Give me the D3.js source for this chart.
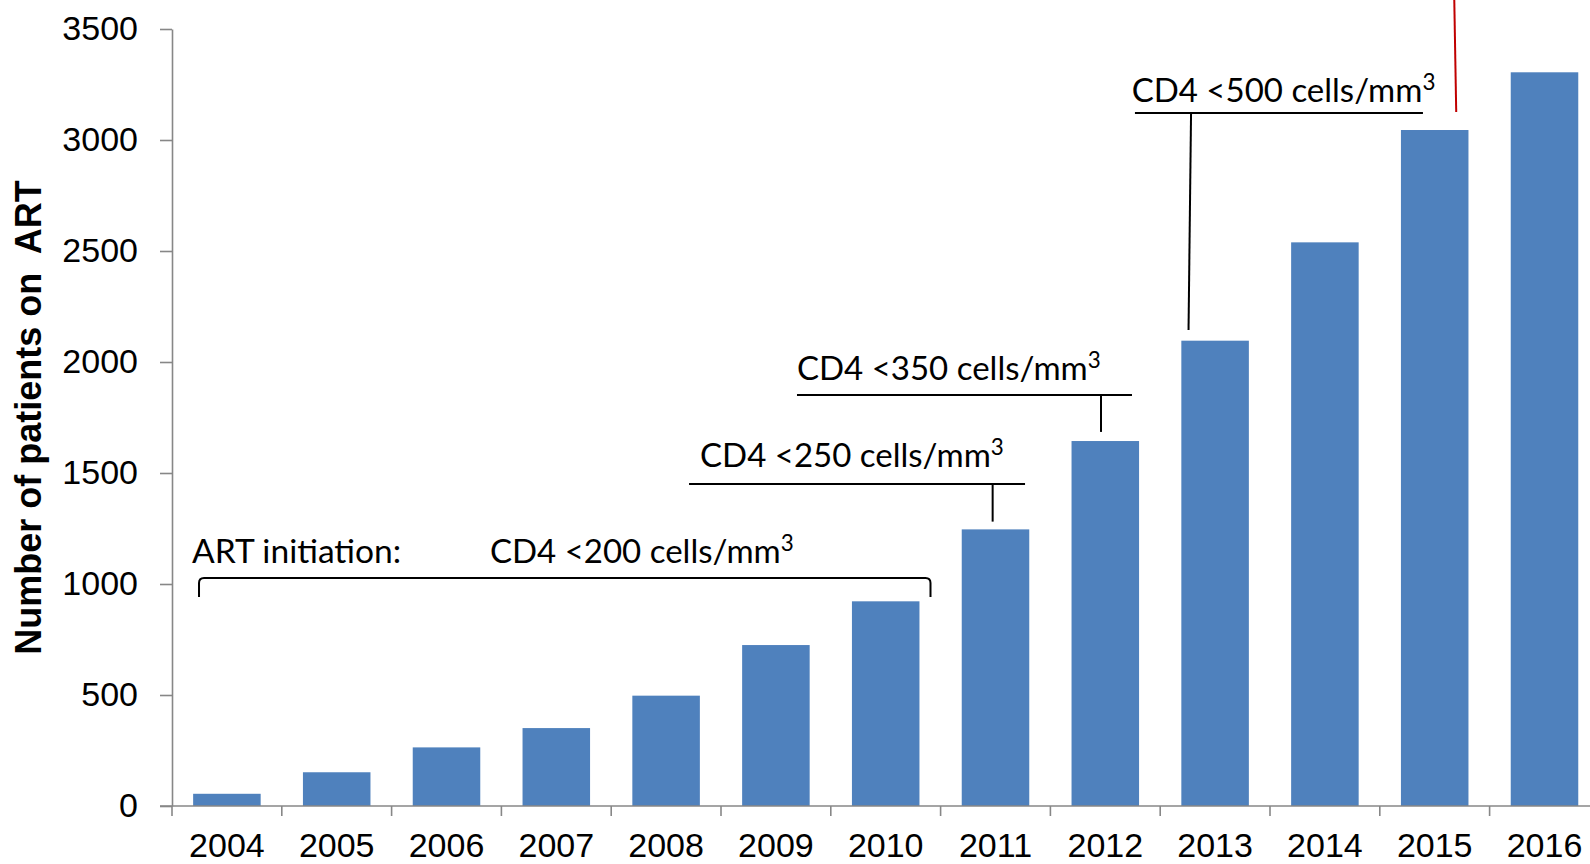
<!DOCTYPE html>
<html>
<head>
<meta charset="utf-8">
<script src="https://cdn.jsdelivr.net/npm/d3@7/dist/d3.min.js"></script>
<style>
  html, body { margin: 0; padding: 0; background: #fff; }
  svg { display: block; }
</style>
</head>
<body>
<svg id="chart" width="1590" height="864"></svg>
<script>
// ---- data ----
const categories = ["2004","2005","2006","2007","2008","2009","2010","2011","2012","2013","2014","2015","2016"];
const patients   = [55, 152, 264, 351, 497, 725, 922, 1246, 1644, 2096, 2539, 3045, 3305];
const yTickValues = [0, 500, 1000, 1500, 2000, 2500, 3000, 3500];
const yAxisTitle = "Number of patients on  ART";
const introLabel = "ART initiation:";
const thresholdLabels = ["CD4 <200 cells/mm", "CD4 <250 cells/mm", "CD4 <350 cells/mm", "CD4 <500 cells/mm"];

// annotation anchors in data space (x in category units from the first band edge, y in patients)
const annotations = [
  { label: 0, textX: 2.896, textY: 1095, x0: 0.246, x1: 6.908, level: 1027, bracketEnd: 941 },
  { label: 1, textX: 4.809, textY: 1529, x0: 4.709, x1: 7.769, level: 1450, tickX: 7.474, tickEnd: 1281 },
  { label: 2, textX: 5.692, textY: 1919, x0: 5.692, x1: 8.743, level: 1851, tickX: 8.461, tickEnd: 1685 },
  { label: 3, textX: 8.740, textY: 3173, x0: 8.770, x1: 11.393, level: 3122, tickX: 9.281, tickXEnd: 9.258, tickEnd: 2144 }
];
const redMarker = { x0: 11.678, y0: 3640, x1: 11.696, y1: 3126 };

// ---- layout ----
const mLeft = 172, mBottom = 806, mTop = 29, bandStep = 109.8;
const svg = d3.select("#chart");

const x = d3.scaleBand()
  .domain(categories)
  .range([mLeft, mLeft + categories.length * bandStep])
  .paddingInner(0.385)
  .paddingOuter(0.1925);
const xu = d3.scaleLinear().domain([0, categories.length]).range([mLeft, mLeft + categories.length * bandStep]);
const y = d3.scaleLinear().domain([0, 3500]).range([mBottom, mTop]);

const axisColor = "#878787";

// bars
svg.append("g").selectAll("rect")
  .data(categories)
  .join("rect")
  .attr("x", c => x(c))
  .attr("width", x.bandwidth())
  .attr("y", (c, i) => y(patients[i]))
  .attr("height", (c, i) => y(0) - y(patients[i]))
  .attr("fill", "#4F81BD");

// y axis
const yAxis = svg.append("g")
  .attr("transform", `translate(${mLeft},0)`)
  .call(d3.axisLeft(y).tickValues(yTickValues).tickFormat(d3.format("d"))
    .tickSize(12).tickPadding(22).tickSizeOuter(0));
yAxis.select(".domain").attr("stroke", axisColor).attr("stroke-width", 1.6);
yAxis.selectAll(".tick line").attr("stroke", axisColor).attr("stroke-width", 1.6);
yAxis.selectAll(".tick text")
  .attr("font-family", "'Liberation Sans', Arial, sans-serif")
  .attr("font-size", 34)
  .attr("fill", "#000");

// x axis (labels at band centers)
const xAxis = svg.append("g")
  .attr("transform", `translate(0,${mBottom})`)
  .call(d3.axisBottom(x).tickSize(0).tickPadding(27).tickSizeOuter(0));
xAxis.select(".domain").remove();
xAxis.selectAll(".tick text")
  .attr("font-family", "'Liberation Sans', Arial, sans-serif")
  .attr("font-size", 34)
  .attr("fill", "#000");

// x axis baseline and boundary ticks
svg.append("line")
  .attr("x1", mLeft - 12).attr("x2", xu(categories.length))
  .attr("y1", mBottom).attr("y2", mBottom)
  .attr("stroke", axisColor).attr("stroke-width", 1.6);
svg.append("g").selectAll("line")
  .data(d3.range(categories.length + 1))
  .join("line")
  .attr("x1", i => xu(i)).attr("x2", i => xu(i))
  .attr("y1", mBottom).attr("y2", mBottom + 10)
  .attr("stroke", axisColor).attr("stroke-width", 1.6);

// y axis title
svg.append("text")
  .attr("transform", `translate(41,${(y(3500) + y(0)) / 2}) rotate(-90)`)
  .attr("text-anchor", "middle")
  .attr("font-family", "'Liberation Sans', Arial, sans-serif")
  .attr("font-weight", "bold")
  .attr("font-size", 36)
  .style("white-space", "pre")
  .attr("fill", "#000")
  .text(yAxisTitle);

// annotations
const annFont = "Lato, 'Open Sans', sans-serif";
const annSize = 33;
const ann = svg.append("g");

ann.append("text")
  .attr("x", xu(0.182)).attr("y", y(1095))
  .attr("font-family", annFont).attr("font-size", 33.6).attr("fill", "#000")
  .text(introLabel);

annotations.forEach(a => {
  const t = ann.append("text")
    .attr("x", xu(a.textX)).attr("y", y(a.textY))
    .attr("font-family", annFont).attr("font-size", annSize).attr("fill", "#000");
  t.append("tspan").text(thresholdLabels[a.label]);
  t.append("tspan").attr("font-size", annSize * 0.68).attr("dy", -annSize * 0.36).text("3");

  if (a.bracketEnd !== undefined) {
    const xa = xu(a.x0), xb = xu(a.x1), yl = y(a.level), ye = y(a.bracketEnd), r = 5;
    ann.append("path")
      .attr("d", `M${xa},${ye} L${xa},${yl + r} Q${xa},${yl} ${xa + r},${yl} L${xb - r},${yl} Q${xb},${yl} ${xb},${yl + r} L${xb},${ye}`)
      .attr("fill", "none").attr("stroke", "#000").attr("stroke-width", 2);
  } else {
    ann.append("line")
      .attr("x1", xu(a.x0)).attr("x2", xu(a.x1))
      .attr("y1", y(a.level)).attr("y2", y(a.level))
      .attr("stroke", "#000").attr("stroke-width", 2);
    ann.append("line")
      .attr("x1", xu(a.tickX)).attr("x2", xu(a.tickXEnd !== undefined ? a.tickXEnd : a.tickX))
      .attr("y1", y(a.level)).attr("y2", y(a.tickEnd))
      .attr("stroke", "#000").attr("stroke-width", 2);
  }
});

// red marker line at top right
ann.append("line")
  .attr("x1", xu(redMarker.x0)).attr("y1", y(redMarker.y0))
  .attr("x2", xu(redMarker.x1)).attr("y2", y(redMarker.y1))
  .attr("stroke", "#C00000").attr("stroke-width", 2);
</script>
</body>
</html>
